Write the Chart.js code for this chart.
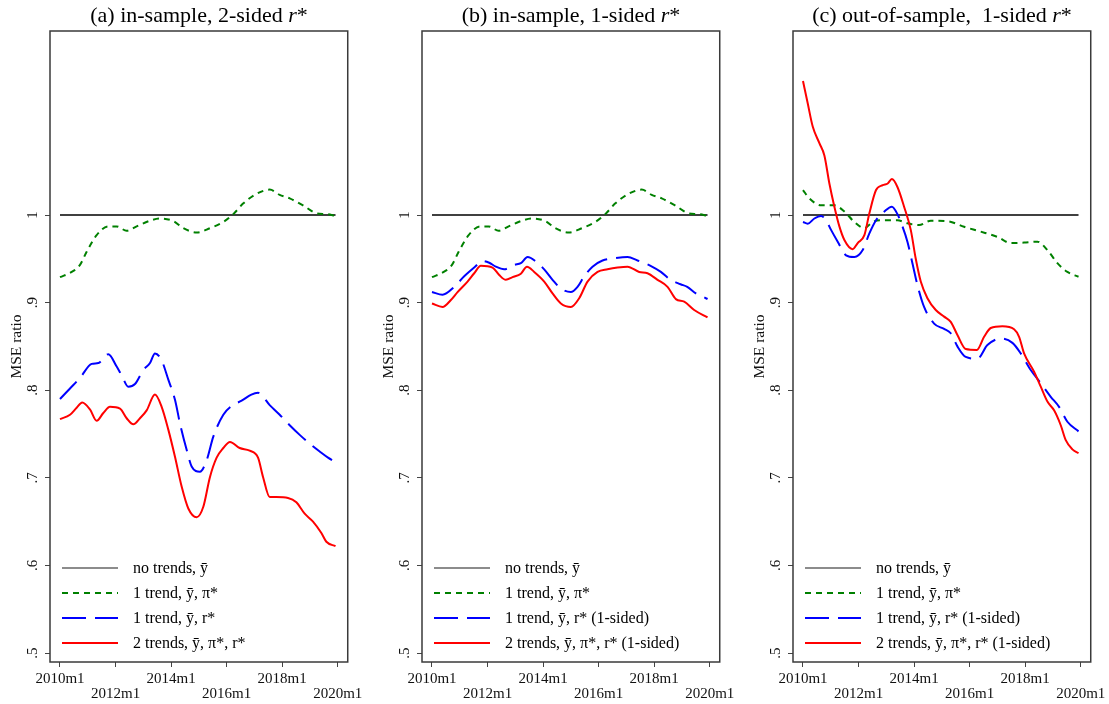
<!DOCTYPE html>
<html><head><meta charset="utf-8">
<script src="https://cdn.jsdelivr.net/npm/chart.js@4.4.0/dist/chart.umd.min.js"></script>
<style>
body{margin:0;background:#fff;width:1109px;height:704px;overflow:hidden;position:relative;font-family:"Liberation Serif",serif;color:#000;}
canvas{position:absolute;top:0;}
.title{position:absolute;top:0;height:30px;font-size:22px;line-height:30px;text-align:center;white-space:pre;}
.lrow{position:absolute;height:24px;font-size:16px;line-height:24px;white-space:pre;}
.lrow svg{position:absolute;left:0;top:9px;}
.lrow span{position:absolute;left:71px;top:0;}
</style></head>
<body>
<script>
// ---------- axis ticks ----------
const tickYears = [2010, 2012, 2014, 2016, 2018, 2020];
const tickLabels = ['2010m1', '2012m1', '2014m1', '2016m1', '2018m1', '2020m1'];
const yTicks = [0.5, 0.6, 0.7, 0.8, 0.9, 1];
const yTickLabels = ['.5', '.6', '.7', '.8', '.9', '1'];

// ---------- series ----------
const baseDates = [2010.00, 2019.92];
const baseValues = [1, 1];

// 1 trend, ybar, pi*  (panels a and b)
const inPiDates = [2010.00,2010.42,2010.72,2010.96,2011.32,2011.74,2012.04,2012.40,2012.76,2013.24,2013.60,2014.08,2014.44,2014.92,2015.40,2015.88,2016.24,2016.59,2017.07,2017.55,2017.91,2018.27,2018.75,2019.23,2019.59,2019.92];
const inPiValues = [0.929,0.935,0.943,0.958,0.977,0.987,0.987,0.982,0.987,0.9935,0.996,0.993,0.985,0.980,0.985,0.992,1.001,1.013,1.024,1.029,1.023,1.019,1.011,1.002,1.001,0.999];

// panel a: 1 trend, ybar, r*
const aRDates = [2010.00,2010.36,2010.72,2011.14,2011.38,2011.74,2012.04,2012.22,2012.46,2012.70,2013.00,2013.24,2013.42,2013.66,2013.90,2014.14,2014.32,2014.56,2014.74,2015.04,2015.28,2015.52,2015.88,2016.18,2016.54,2016.89,2017.13,2017.55,2017.91,2018.27,2018.63,2018.99,2019.35,2019.65,2019.92];
const aRValues = [0.790,0.802,0.814,0.830,0.831,0.841,0.827,0.817,0.804,0.807,0.823,0.831,0.842,0.834,0.812,0.789,0.762,0.732,0.713,0.707,0.720,0.747,0.772,0.782,0.788,0.795,0.797,0.783,0.772,0.760,0.749,0.739,0.730,0.723,0.718];
// panel a: 2 trends, ybar, pi*, r*
const aBothDates = [2010.00,2010.36,2010.60,2010.80,2011.08,2011.32,2011.56,2011.80,2012.16,2012.40,2012.64,2012.88,2013.12,2013.42,2013.66,2013.90,2014.14,2014.38,2014.62,2014.92,2015.16,2015.40,2015.64,2015.88,2016.12,2016.47,2016.83,2017.13,2017.31,2017.55,2017.79,2018.21,2018.51,2018.81,2019.11,2019.41,2019.59,2019.92];
const aBothValues = [0.767,0.772,0.780,0.786,0.778,0.765,0.774,0.781,0.779,0.768,0.761,0.768,0.777,0.795,0.781,0.755,0.724,0.690,0.665,0.655,0.667,0.701,0.723,0.734,0.741,0.734,0.731,0.723,0.701,0.678,0.678,0.677,0.672,0.659,0.650,0.637,0.627,0.622];

// panel b: 1 trend, ybar, r* (1-sided)
const bRDates = [2010.00,2010.38,2010.80,2011.16,2011.52,2011.82,2012.06,2012.30,2012.60,2012.96,2013.20,2013.44,2013.74,2014.04,2014.34,2014.64,2015.00,2015.24,2015.48,2015.78,2016.14,2016.56,2017.04,2017.40,2017.87,2018.24,2018.59,2018.95,2019.19,2019.50,2019.80,2019.92];
const bRValues = [0.912,0.909,0.918,0.930,0.940,0.9475,0.9455,0.941,0.938,0.943,0.945,0.952,0.947,0.938,0.926,0.916,0.912,0.918,0.930,0.941,0.948,0.9505,0.952,0.948,0.942,0.935,0.926,0.921,0.918,0.9105,0.906,0.904];
// panel b: 2 trends, ybar, pi*, r* (1-sided)
const bBothDates = [2010.00,2010.38,2010.68,2010.92,2011.28,2011.52,2011.76,2012.18,2012.42,2012.66,2012.90,2013.20,2013.42,2013.68,2014.04,2014.34,2014.64,2015.00,2015.30,2015.60,2015.96,2016.32,2016.68,2017.04,2017.46,2017.76,2018.12,2018.48,2018.78,2019.08,2019.44,2019.92];
const bBothValues = [0.899,0.895,0.903,0.912,0.924,0.9335,0.942,0.940,0.9315,0.926,0.929,0.933,0.941,0.935,0.924,0.9105,0.899,0.895,0.905,0.924,0.935,0.938,0.940,0.941,0.935,0.9335,0.926,0.918,0.904,0.901,0.8915,0.883];

// panel c: 1 trend, ybar, pi*
const cPiDates = [2010.00,2010.23,2010.65,2011.13,2011.49,2011.85,2012.21,2012.51,2012.81,2013.40,2013.76,2014.18,2014.60,2015.20,2015.80,2016.40,2017.00,2017.48,2017.96,2018.44,2018.80,2019.16,2019.52,2019.92];
const cPiValues = [1.0285,1.019,1.011,1.011,1.004,0.992,0.985,0.992,0.994,0.994,0.9905,0.9885,0.9935,0.993,0.9865,0.981,0.975,0.968,0.9685,0.9695,0.960,0.945,0.935,0.9295];
// panel c: 1 trend, ybar, r* (1-sided)
const cRDates = [2010.00,2010.17,2010.41,2010.65,2010.83,2011.01,2011.25,2011.55,2011.85,2012.15,2012.39,2012.63,2012.93,2013.20,2013.40,2013.58,2013.76,2013.94,2014.12,2014.36,2014.72,2015.08,2015.32,2015.56,2015.86,2016.28,2016.64,2017.12,2017.54,2017.84,2018.20,2018.56,2018.92,2019.22,2019.52,2019.92];
const cRValues = [0.992,0.990,0.996,0.999,0.994,0.983,0.9695,0.954,0.952,0.960,0.979,0.994,1.004,1.0095,1.001,0.987,0.9695,0.945,0.920,0.895,0.876,0.870,0.865,0.850,0.838,0.836,0.8515,0.859,0.854,0.842,0.823,0.808,0.7925,0.781,0.764,0.753];
// panel c: 2 trends, ybar, pi*, r* (1-sided)
const cBothDates = [2010.00,2010.17,2010.35,2010.59,2010.77,2010.95,2011.13,2011.31,2011.49,2011.79,2011.97,2012.21,2012.39,2012.63,2012.87,2013.05,2013.20,2013.40,2013.64,2013.88,2014.06,2014.24,2014.48,2014.78,2015.08,2015.32,2015.56,2015.86,2016.26,2016.52,2016.76,2017.18,2017.60,2017.78,2017.96,2018.32,2018.56,2018.80,2019.04,2019.28,2019.46,2019.70,2019.92];
const cBothValues = [1.153,1.1275,1.101,1.082,1.068,1.036,1.0095,0.987,0.9715,0.961,0.968,0.977,1.002,1.0285,1.034,1.036,1.041,1.032,1.0095,0.983,0.950,0.924,0.905,0.8915,0.884,0.878,0.863,0.847,0.846,0.861,0.871,0.873,0.8695,0.861,0.842,0.821,0.804,0.787,0.777,0.760,0.743,0.7325,0.728];

const legendA = ['no trends, ȳ', '1 trend, ȳ, π*', '1 trend, ȳ, r*', '2 trends, ȳ, π*, r*'];
const legendB = ['no trends, ȳ', '1 trend, ȳ, π*', '1 trend, ȳ, r* (1-sided)', '2 trends, ȳ, π*, r* (1-sided)'];

// ---------- styling ----------
const FONT = 'Liberation Serif';
const STYLES = [
  {color:'#000000', width:1.4, dash:[], legendColor:'#666'},
  {color:'#008000', width:2, dash:[6,5], legendColor:'#008000'},
  {color:'#0000ff', width:2, dash:[24,9], legendColor:'#0000ff'},
  {color:'#ff0000', width:2, dash:[], legendColor:'#ff0000'}
];
const X_MIN = 2010 - 10/27.8, X_MAX = 2020 + 10/27.8;
const Y_MIN = 0.5 - 9/876, Y_MAX = 1 + 184/876;

function pts(xs, ys){ return xs.map((x,i)=>({x:x, y:ys[i]})); }

const boxPlugin = {
  id:'box',
  afterDatasetsDraw(chart){
    const {ctx, chartArea:a} = chart;
    ctx.save();
    ctx.strokeStyle = '#3a3a3a';
    ctx.lineWidth = 1.5;
    ctx.strokeRect(a.left, a.top, a.right - a.left, a.bottom - a.top);
    ctx.restore();
  }
};

function makePanel(boxLeft, title, series, legendLabels){
  const canvasLeft = boxLeft - 50;
  const cv = document.createElement('canvas');
  cv.width = 368; cv.height = 704;
  cv.style.left = canvasLeft + 'px';
  cv.style.width = '368px'; cv.style.height = '704px';
  document.body.appendChild(cv);

  const datasets = series.map((s,i)=>({
    label: legendLabels[i],
    data: pts(s[0], s[1]),
    borderColor: STYLES[i].color,
    borderWidth: STYLES[i].width,
    borderDash: STYLES[i].dash,
    pointRadius: 0,
    fill: false,
    cubicInterpolationMode: 'monotone',
    order: 3 - i
  }));

  new Chart(cv.getContext('2d'), {
    type:'line',
    data:{datasets},
    options:{
      responsive:false, animation:false, devicePixelRatio:1,
      layout:{padding:{top:31, right:20, bottom:0, left:0}},
      plugins:{legend:{display:false}, tooltip:{enabled:false}},
      scales:{
        x:{
          type:'linear', min:X_MIN, max:X_MAX,
          afterBuildTicks: s => { s.ticks = tickYears.map(v=>({value:v})); },
          afterFit: s => { s.height = 42; },
          ticks:{autoSkip:false, maxRotation:0, minRotation:0, padding:5, color:'#111',
            font:{family:FONT, size:15, lineHeight:0.97},
            callback:(v,i)=> i%2===0 ? [tickLabels[i], ''] : ['', tickLabels[i]]},
          grid:{drawOnChartArea:false, drawTicks:true, tickLength:5, color:'#444', tickWidth:1},
          border:{display:false}
        },
        y:{
          min:Y_MIN, max:Y_MAX,
          afterBuildTicks: s => { s.ticks = yTicks.map(v=>({value:v})); },
          afterFit: s => { s.width = 50; },
          ticks:{autoSkip:false, minRotation:90, maxRotation:90, crossAlign:'center', padding:6, color:'#111',
            font:{family:FONT, size:15},
            callback:(v,i)=> yTickLabels[i]},
          grid:{drawOnChartArea:false, drawTicks:true, tickLength:5, color:'#444', tickWidth:1},
          border:{display:false},
          title:{display:true, text:'MSE ratio', color:'#111', font:{family:FONT, size:15.5, lineHeight:1.2}, padding:{top:8, bottom:0}}
        }
      }
    },
    plugins:[boxPlugin]
  });

  const t = document.createElement('div');
  t.className = 'title';
  t.style.left = boxLeft + 'px'; t.style.width = '298px';
  t.innerHTML = title;
  document.body.appendChild(t);

  legendLabels.forEach((lab,i)=>{
    const r = document.createElement('div');
    r.className = 'lrow';
    r.style.left = (boxLeft + 12) + 'px';
    r.style.top = (556 + 25*i) + 'px';
    const st = STYLES[i];
    const dash = st.dash.length ? ` stroke-dasharray="${st.dash.join(' ')}"` : '';
    r.innerHTML = `<svg width="58" height="6"><line x1="0" y1="3" x2="56" y2="3" stroke="${st.legendColor}" stroke-width="${i===0?1.5:2}"${dash}/></svg><span></span>`;
    r.querySelector('span').textContent = lab;
    document.body.appendChild(r);
  });
}

makePanel(50, '(a) in-sample, 2-sided <i>r</i>*',
  [[baseDates, baseValues],[inPiDates, inPiValues],[aRDates, aRValues],[aBothDates, aBothValues]], legendA);
makePanel(422, '(b) in-sample, 1-sided <i>r</i>*',
  [[baseDates, baseValues],[inPiDates, inPiValues],[bRDates, bRValues],[bBothDates, bBothValues]], legendB);
makePanel(793, '(c) out-of-sample,  1-sided <i>r</i>*',
  [[baseDates, baseValues],[cPiDates, cPiValues],[cRDates, cRValues],[cBothDates, cBothValues]], legendB);
</script>
</body></html>
